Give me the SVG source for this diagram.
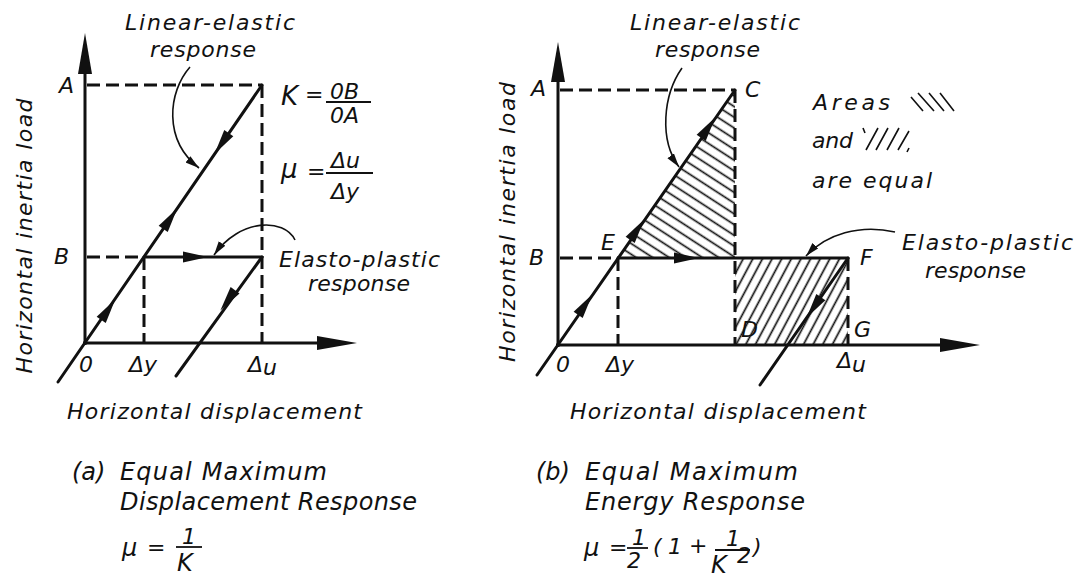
<svg xmlns="http://www.w3.org/2000/svg" width="1088" height="579" viewBox="0 0 1088 579">
<style>
.t{font-family:"DejaVu Sans","Liberation Sans",sans-serif;font-style:italic;font-size:22px;fill:#111}
.b{font-size:24px}
.f{font-size:26px}
.ln{stroke:#111;stroke-width:3;fill:none;stroke-linecap:round}
.ax{stroke:#111;stroke-width:3;fill:none}
.ds{stroke:#111;stroke-width:3;fill:none;stroke-dasharray:13 6}
.co{stroke:#111;stroke-width:1.6;fill:none;marker-end:url(#ah)}
.hs{stroke:#111;stroke-width:1.6;fill:none}
.fl{stroke:#111;stroke-width:1.8}
.ah{fill:#111}
</style>
<defs>
<marker id="ah" markerUnits="userSpaceOnUse" markerWidth="16" markerHeight="10" refX="14" refY="4" orient="auto"><path d="M0,0 L14,4 L0,8 z" fill="#111"/></marker>
<polygon id="mid" points="13,0 -12,-5.5 -12,5.5" fill="#111"/>
<pattern id="h1" patternUnits="userSpaceOnUse" width="9" height="9" patternTransform="rotate(33)"><path d="M0,4.5 H9" stroke="#111" stroke-width="1.7"/></pattern>
<pattern id="h2" patternUnits="userSpaceOnUse" width="8.5" height="8.5" patternTransform="rotate(-62)"><path d="M0,4.2 H8.5" stroke="#111" stroke-width="1.7"/></pattern>
</defs>

<g id="diagram-a">
  <g id="axes-a">
    <line class="ax" x1="85" y1="345" x2="85" y2="60"/>
    <polygon class="ah" points="85,33 78,74 92,74"/>
    <line class="ax" x1="83" y1="343" x2="330" y2="343"/>
    <polygon class="ah" points="357,343 317,336 317,350"/>
  </g>
  <g id="guides-a">
    <line class="ds" x1="87" y1="85" x2="262" y2="85"/>
    <line class="ds" x1="262" y1="85" x2="262" y2="343"/>
    <line class="ds" x1="87" y1="257" x2="144" y2="257"/>
    <line class="ds" x1="144" y1="257" x2="144" y2="343"/>
  </g>
  <g id="connectors-a">
    <line class="ln" x1="58" y1="382" x2="262" y2="85"/>
    <line class="ln" x1="144" y1="257" x2="262" y2="257"/>
    <line class="ln" x1="262" y1="257" x2="176" y2="376"/>
    <use href="#mid" transform="translate(108,310) rotate(-55.5)"/>
    <use href="#mid" transform="translate(170,219) rotate(-55.5)"/>
    <use href="#mid" transform="translate(222,143) rotate(124.5)"/>
    <use href="#mid" transform="translate(195,257)"/>
    <use href="#mid" transform="translate(228,300) rotate(126)"/>
    <path class="co" d="M190,67 C168,92 163,140 199,168"/>
    <path class="co" d="M295,240 C284,218 240,218 214,255"/>
  </g>
  <g id="labels-a">
    <text class="t" x="125" y="30" textLength="170" lengthAdjust="spacing">Linear-elastic</text>
    <text class="t" x="150" y="57" textLength="106" lengthAdjust="spacing">response</text>
    <text class="t" x="59" y="93">A</text>
    <text class="t" x="54" y="264">B</text>
    <text class="t" x="79" y="372">0</text>
    <text class="t" x="129" y="372">Δy</text>
    <text class="t" x="248" y="372">Δ<tspan dy="3">u</tspan></text>
    <text class="t" x="279" y="267" textLength="161" lengthAdjust="spacing">Elasto-plastic</text>
    <text class="t" x="308" y="291" textLength="102" lengthAdjust="spacing">response</text>
    <text class="t" transform="translate(32,236) rotate(-90)" text-anchor="middle" textLength="275" lengthAdjust="spacing">Horizontal inertia load</text>
    <text class="t" x="67" y="419" textLength="295" lengthAdjust="spacing">Horizontal displacement</text>
  </g>
  <g id="formulas-a">
    <text class="t f" x="281" y="105">K</text>
    <text class="t" x="305" y="102">=</text>
    <text class="t" x="330" y="99" font-size="24">0B</text>
    <line class="fl" x1="326" y1="102" x2="371" y2="102"/>
    <text class="t" x="330" y="123" font-size="24">0A</text>
    <text class="t f" x="281" y="178">μ</text>
    <text class="t" x="307" y="179">=</text>
    <text class="t" x="331" y="168" font-size="24">Δu</text>
    <line class="fl" x1="326" y1="173" x2="373" y2="173"/>
    <text class="t" x="331" y="199" font-size="24">Δy</text>
  </g>
  <g id="caption-a">
    <text class="t b" x="72" y="480">(a)</text>
    <text class="t b" x="120" y="480" textLength="207" lengthAdjust="spacing">Equal Maximum</text>
    <text class="t b" x="120" y="510" textLength="297" lengthAdjust="spacing">Displacement Response</text>
    <text class="t b" x="122" y="556">μ</text>
    <text class="t" x="147" y="555">=</text>
    <text class="t" x="182" y="544">1</text>
    <line class="fl" x1="176" y1="547" x2="202" y2="547"/>
    <text class="t b" x="177" y="571">K</text>
  </g>
</g>

<g id="diagram-b">
  <g id="hatching-b">
    <polygon points="618,258 735,90 735,258" fill="url(#h1)"/>
    <rect x="735" y="258" width="113" height="87" fill="url(#h2)"/>
  </g>
  <g id="axes-b">
    <line class="ax" x1="558" y1="347" x2="558" y2="70"/>
    <polygon class="ah" points="558,42 551,82 565,82"/>
    <line class="ax" x1="556" y1="345" x2="950" y2="345"/>
    <polygon class="ah" points="980,345 940,338 940,352"/>
  </g>
  <g id="guides-b">
    <line class="ds" x1="560" y1="90" x2="735" y2="90"/>
    <line class="ds" x1="735" y1="90" x2="735" y2="345"/>
    <line class="ds" x1="560" y1="258" x2="618" y2="258"/>
    <line class="ds" x1="618" y1="258" x2="618" y2="345"/>
    <line class="ds" x1="848" y1="258" x2="848" y2="345"/>
  </g>
  <g id="connectors-b">
    <line class="ln" x1="537" y1="375" x2="735" y2="90"/>
    <line class="ln" x1="618" y1="258" x2="848" y2="258"/>
    <line class="ln" x1="848" y1="258" x2="760" y2="385"/>
    <use href="#mid" transform="translate(585,305) rotate(-55.3)"/>
    <use href="#mid" transform="translate(637,230) rotate(-55.3)"/>
    <use href="#mid" transform="translate(708,128) rotate(-55.3)"/>
    <use href="#mid" transform="translate(686,258)"/>
    <use href="#mid" transform="translate(814,307) rotate(124.7)"/>
    <path class="co" d="M682,68 C663,95 659,140 679,167"/>
    <path class="co" d="M895,232 C860,224 826,234 806,256"/>
  </g>
  <g id="labels-b">
    <text class="t" x="630" y="30" textLength="170" lengthAdjust="spacing">Linear-elastic</text>
    <text class="t" x="655" y="57" textLength="105" lengthAdjust="spacing">response</text>
    <text class="t" x="531" y="96">A</text>
    <text class="t" x="745" y="97">C</text>
    <text class="t" x="601" y="250">E</text>
    <text class="t" x="529" y="265">B</text>
    <text class="t" x="860" y="265">F</text>
    <text class="t" x="741" y="337">D</text>
    <text class="t" x="854" y="337">G</text>
    <text class="t" x="556" y="372">0</text>
    <text class="t" x="606" y="372">Δy</text>
    <text class="t" x="837" y="368">Δ<tspan dy="4">u</tspan></text>
    <text class="t" x="813" y="110" textLength="77" lengthAdjust="spacing">Areas</text>
    <text class="t" x="812" y="148" textLength="41" lengthAdjust="spacing">and</text>
    <text class="t" x="812" y="188" textLength="120" lengthAdjust="spacing">are equal</text>
    <text class="t" x="902" y="250" textLength="171" lengthAdjust="spacing">Elasto-plastic</text>
    <text class="t" x="925" y="278" textLength="101" lengthAdjust="spacing">response</text>
    <text class="t" transform="translate(515,222) rotate(-90)" text-anchor="middle" textLength="280" lengthAdjust="spacing">Horizontal inertia load</text>
    <text class="t" x="570" y="419" textLength="296" lengthAdjust="spacing">Horizontal displacement</text>
  </g>
  <g id="legend-b">
    <path class="hs" d="M911,97 L923,111 M918,93 L934,111 M929,93 L944,111 M940,93 L954,111"/>
    <path class="hs" d="M863,128 L865,133 M866,150 L878,128 M876,150 L888,128 M887,150 L899,128 M898,150 L909,131 M909,148 L907,152"/>
  </g>
  <g id="caption-b">
    <text class="t b" x="536" y="480">(b)</text>
    <text class="t b" x="585" y="480" textLength="213" lengthAdjust="spacing">Equal Maximum</text>
    <text class="t b" x="585" y="510" textLength="220" lengthAdjust="spacing">Energy Response</text>
    <text class="t b" x="584" y="556">μ</text>
    <text class="t" x="609" y="555">=</text>
    <text class="t" x="632" y="545">1</text>
    <line class="fl" x1="627" y1="548" x2="648" y2="548"/>
    <text class="t" x="627" y="568">2</text>
    <text class="t" x="653" y="554">(</text>
    <text class="t" x="668" y="554">1</text>
    <text class="t" x="689" y="553">+</text>
    <text class="t" x="726" y="546">1</text>
    <line class="fl" x1="715" y1="550" x2="750" y2="550"/>
    <text class="t b" x="711" y="573">K</text>
    <text class="t" x="737" y="563" font-size="15">2</text>
    <text class="t" x="753" y="554">)</text>
  </g>
</g>
</svg>
